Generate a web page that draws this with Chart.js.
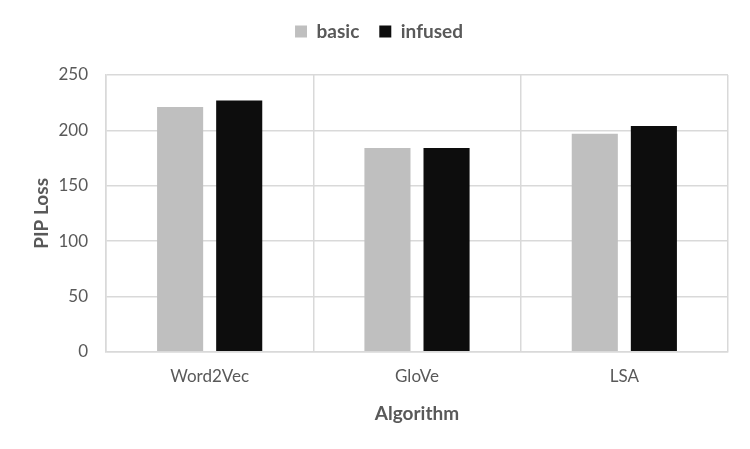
<!DOCTYPE html>
<html>
<head>
<meta charset="utf-8">
<script src="https://cdn.jsdelivr.net/npm/chart.js@4"></script>
<style>
  html, body { margin: 0; padding: 0; background: #fff; }
  #wrap { width: 750px; height: 449px; }
</style>
</head>
<body>
<div id="wrap"><canvas id="c" width="750" height="449"></canvas></div>
<script>
// values
const algorithms = ['Word2Vec', 'GloVe', 'LSA'];
const basicLoss = [221, 184, 197];
const infusedLoss = [227, 184, 204];

const textColor = '#595959';
const gridColor = '#d9d9d9';
const fontFamily = 'Lato, "Open Sans", sans-serif';

// pushes the plot area down below the legend
const legendGap = {
  id: 'legendGap',
  beforeInit(chart) {
    const fit = chart.legend.fit;
    chart.legend.fit = function () {
      fit.bind(chart.legend)();
      this.height += 24;
    };
  },
};

const config = {
  type: 'bar',
  data: {
    labels: algorithms,
    datasets: [
      { label: 'basic', data: basicLoss, backgroundColor: '#bfbfbf' },
      { label: 'infused', data: infusedLoss, backgroundColor: '#0d0d0d' },
    ],
  },
  options: {
    responsive: false,
    animation: false,
    categoryPercentage: 0.57,
    barPercentage: 0.78,
    layout: { padding: { left: 30, right: 22, top: 2, bottom: 24 } },
    plugins: {
      legend: {
        position: 'top',
        labels: {
          color: textColor,
          boxWidth: 12,
          boxHeight: 12,
          padding: 20,
          font: { family: fontFamily, size: 19, weight: 'bold' },
        },
      },
      tooltip: { enabled: false },
    },
    scales: {
      x: {
        grid: { color: gridColor, lineWidth: 1.5, drawTicks: false },
        border: { color: gridColor, width: 1.5 },
        ticks: { color: textColor, padding: 15, font: { family: fontFamily, size: 17 } },
        title: {
          display: true,
          text: 'Algorithm',
          color: textColor,
          padding: { top: 0, bottom: 0 },
          font: { family: fontFamily, size: 19, weight: 'bold' },
        },
      },
      y: {
        min: 0,
        max: 250,
        afterFit(scale) { scale.width = 76; },
        grid: { color: gridColor, lineWidth: 1.5, drawTicks: false },
        border: { color: gridColor, width: 1.5 },
        ticks: { stepSize: 50, color: textColor, padding: 18, font: { family: fontFamily, size: 17 } },
        title: {
          display: true,
          text: 'PIP Loss',
          color: textColor,
          padding: { top: 0, bottom: 0 },
          font: { family: fontFamily, size: 19, weight: 'bold' },
        },
      },
    },
  },
  plugins: [legendGap],
};

new Chart(document.getElementById('c'), config);
</script>
</body>
</html>
